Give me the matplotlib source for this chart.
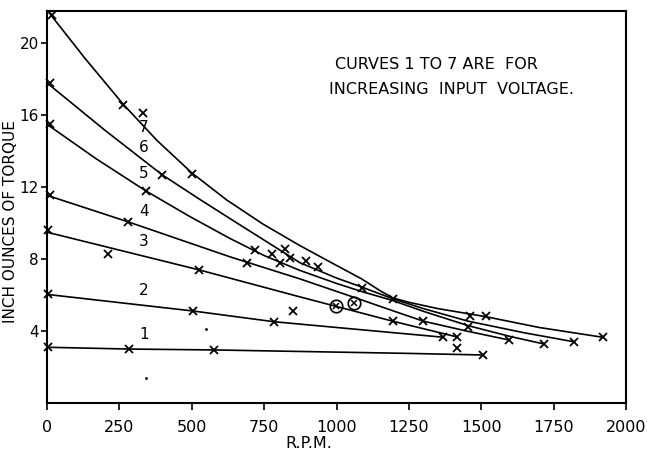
"""Torque / speed curves for seven input voltages, redrawn from an old scanned plot."""

import matplotlib

matplotlib.use("Agg")
import matplotlib.pyplot as plt
import numpy as np

# curve vertices: rpm -> inch ounces of torque
curve1_rpm = [0, 284, 580, 1000, 1244, 1505]
curve1_torque = [3.1, 3.0, 2.95, 2.83, 2.76, 2.67]

curve2_rpm = [0, 503, 784, 1000, 1367]
curve2_torque = [6.04, 5.12, 4.52, 4.2, 3.66]

curve3_rpm = [0, 526, 874, 1194, 1415]
curve3_torque = [9.5, 7.4, 5.9, 4.55, 3.68]

curve4_rpm = [0, 281, 632, 874, 1087, 1200, 1300, 1450, 1597]
curve4_torque = [11.55, 10.07, 8.13, 6.9, 5.73, 5.1, 4.55, 4.0, 3.5]

curve5_rpm = [0, 170, 341, 490, 632, 750, 874, 1000, 1087, 1194, 1300, 1455, 1600, 1717]
curve5_torque = [15.5, 13.58, 11.8, 10.4, 9.15, 8.2, 7.37, 6.65, 6.2, 5.7, 5.1, 4.3, 3.7, 3.28]

curve6_rpm = [0, 200, 397, 530, 667, 874, 1000, 1087, 1194, 1300, 1455, 1650, 1822]
curve6_torque = [17.8, 15.17, 12.7, 11.3, 9.9, 7.8, 6.95, 6.45, 5.8, 5.25, 4.55, 3.9, 3.4]

curve7_rpm = [0, 132, 264, 380, 500, 620, 746, 874, 1000, 1087, 1150, 1194, 1250, 1350,
              1516, 1700, 1922]
curve7_torque = [21.85, 19.15, 16.6, 14.6, 12.8, 11.3, 9.95, 8.75, 7.65, 6.9, 6.25, 5.85, 5.6,
                 5.25, 4.8, 4.2, 3.65]

curves = [
    (curve1_rpm, curve1_torque),
    (curve2_rpm, curve2_torque),
    (curve3_rpm, curve3_torque),
    (curve4_rpm, curve4_torque),
    (curve5_rpm, curve5_torque),
    (curve6_rpm, curve6_torque),
    (curve7_rpm, curve7_torque),
]
curve_names = ["1", "2", "3", "4", "5", "6", "7"]

# measured points (crosses)
mark_rpm = [
    2, 284, 578, 1505,
    2, 503, 784, 851, 1367,
    2, 212, 526, 1194, 1415, 1417,
    10, 281, 692, 1300, 1597,
    10, 341, 718, 805, 1455, 1717,
    10, 397, 776, 822, 839, 895, 937, 1822,
    16, 264, 333, 500, 1087, 1194, 1461, 1516, 1922,
]
mark_torque = [
    3.13, 2.98, 2.94, 2.65,
    6.04, 5.1, 4.5, 5.1, 3.66,
    9.6, 8.3, 7.4, 4.55, 3.68, 3.07,
    11.55, 10.07, 7.76, 4.55, 3.5,
    15.5, 11.8, 8.5, 7.76, 4.24, 3.28,
    17.8, 12.7, 8.3, 8.55, 8.04, 7.9, 7.54, 3.4,
    21.6, 16.6, 16.1, 12.75, 6.4, 5.76, 4.85, 4.85, 3.65,
]

# circled crosses
ring_rpm = [998, 1062]
ring_torque = [5.4, 5.58]

# specks on the scan inside the frame
speck_rpm = [549, 341]
speck_torque = [4.1, 1.4]

x_ticks = [0, 250, 500, 750, 1000, 1250, 1500, 1750, 2000]
y_ticks = [4, 8, 12, 16, 20]


def render(out_path="out.png"):
    fig = plt.figure(figsize=(6.47, 4.53), dpi=100)
    ax = fig.add_axes([47 / 647, 50 / 453, 579 / 647, 392 / 453])

    for rpm, torque in curves:
        ax.plot(rpm, torque, color="black", lw=1.2, solid_joinstyle="round")

    ax.plot(mark_rpm, mark_torque, ls="none", marker="x", ms=5.5, mew=1.3,
            color="black", clip_on=False)
    ax.plot(ring_rpm, ring_torque, ls="none", marker="o", ms=9, mew=1.2,
            mfc="none", mec="black")
    ax.plot(ring_rpm, ring_torque, ls="none", marker="x", ms=5, mew=1.1, color="black")
    ax.plot(speck_rpm, speck_torque, ls="none", marker=".", ms=2, color="black")

    # curve numbers sit just above each line near 335 rpm
    offsets = [7, 7, 7, 8, 9, 6, -1]
    for (rpm, torque), name, dy in zip(curves, curve_names, offsets):
        y = np.interp(335, rpm, torque)
        ax.annotate(name, (335, y), xytext=(0, dy), textcoords="offset pixels",
                    ha="center", va="bottom" if dy > 0 else "center", fontsize=11)

    ax.text(995, 18.8, "CURVES 1 TO 7 ARE  FOR", fontsize=11.5, va="center")
    ax.text(975, 17.45, "INCREASING  INPUT  VOLTAGE.", fontsize=11.5, va="center")

    ax.set_xlim(0, 2000)
    ax.set_ylim(0, 21.8)
    ax.set_xticks(x_ticks)
    ax.set_yticks(y_ticks)
    ax.tick_params(axis="x", direction="out", length=5, width=1.2, pad=7, labelsize=11.5)
    ax.tick_params(axis="y", direction="out", length=4, width=1.2, pad=2, labelsize=11)
    for s in ax.spines.values():
        s.set_linewidth(1.5)

    fig.text(11 / 647, 1 - 222 / 453, "INCH OUNCES OF TORQUE", rotation=90,
             ha="center", va="center", fontsize=11)
    fig.text(309 / 647, 1 - 443 / 453, "R.P.M.", ha="center", va="center", fontsize=11.5)

    fig.savefig(out_path, dpi=100)


if __name__ == "__main__":
    render()
